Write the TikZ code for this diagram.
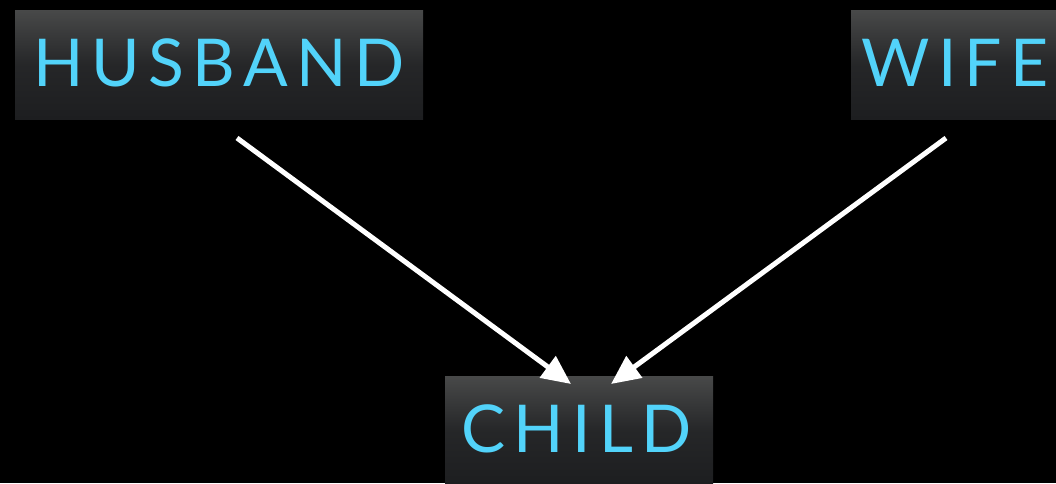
\documentclass[tikz,border=0pt]{standalone}
\usepackage{fontspec}
\setmainfont[LetterSpace=12.5]{Lato}
\usetikzlibrary{arrows.meta}
\definecolor{txtblue}{HTML}{52D3FA}
\definecolor{boxtop}{HTML}{484949}
\definecolor{boxbot}{HTML}{1D1E20}
\tikzset{
  labelbox/.style={rectangle, inner sep=0pt, top color=boxtop, bottom color=boxbot,
    middle color=boxbot!80!boxtop,
    text=txtblue, font=\fontsize{66}{66}\selectfont},
  link/.style={white, line width=5pt, -{Triangle[length=29pt,width=26pt]}}
}
\begin{document}
\begin{tikzpicture}[x=1pt,y=-1pt]
\fill[black] (0,0) rectangle (1056,483);
\useasboundingbox (0,0) rectangle (1056,483);
\clip (0,0) rectangle (1056,483);
\node[labelbox, minimum width=408pt, minimum height=109pt] (husband) at (219,64.5) {\raisebox{3pt}{HUSBAND}};
\node[labelbox, minimum width=208pt, minimum height=109pt] (wife) at (955,64.5) {\raisebox{3pt}{WIFE}};
\node[labelbox, minimum width=268pt, minimum height=109pt] (child) at (579,430.5) {\hspace*{-5pt}\raisebox{3pt}{CHILD}};
\coordinate (hout) at (237,138);
\coordinate (wout) at (946,138);
\coordinate (cin1) at (571,384);
\coordinate (cin2) at (611,384);
\draw[link] (hout) -- (cin1);
\draw[link] (wout) -- (cin2);
\end{tikzpicture}
\end{document}
